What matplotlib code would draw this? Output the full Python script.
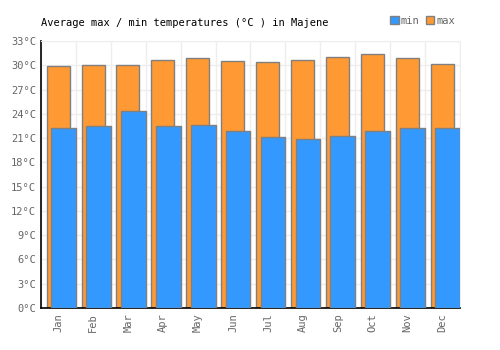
import matplotlib.pyplot as plt
from matplotlib.patches import Patch

# valores
meses = ['Jan', 'Feb', 'Mar', 'Apr', 'May', 'Jun', 'Jul', 'Aug', 'Sep', 'Oct', 'Nov', 'Dec']
t_max = [29.9, 30.0, 30.0, 30.7, 30.9, 30.5, 30.4, 30.7, 31.0, 31.4, 30.9, 30.1]
t_min = [22.2, 22.5, 24.35, 22.5, 22.6, 21.9, 21.1, 20.9, 21.2, 21.9, 22.3, 22.3]
y_ticks = list(range(0, 34, 3))

plt.rcParams['font.family'] = 'DejaVu Sans Mono'

fig = plt.figure(figsize=(5, 3.5), dpi=100)
ax = fig.add_axes([0.082, 0.12, 0.838, 0.763])

x = list(range(len(meses)))
ax.bar([i + 0.16 for i in x], t_max, width=0.66, align='edge', color='#ff9933',
       edgecolor='#808080', linewidth=1, zorder=2)
ax.bar([i + 0.29 for i in x], t_min, width=0.71, align='edge', color='#3399ff',
       edgecolor='#808080', linewidth=1, zorder=3)

ax.set_xlim(0, 12)
ax.set_ylim(0, 33)
ax.set_yticks(y_ticks)
ax.set_yticklabels([f'{v}°C' for v in y_ticks])
ax.set_xticks([i + 0.5 for i in x])
ax.set_xticklabels(meses, rotation=90)
ax.set_xticks(range(13), minor=True)
ax.tick_params(axis='both', colors='#666666', labelsize=7.5, length=0)
ax.tick_params(axis='x', which='minor', length=0)
ax.grid(True, axis='y', color='#eeeeee', linewidth=1, zorder=0)
ax.grid(True, axis='x', which='minor', color='#eeeeee', linewidth=1, zorder=0)
ax.set_axisbelow(True)

for lado in ['top', 'right']:
    ax.spines[lado].set_color('#eeeeee')
for lado in ['left', 'bottom']:
    ax.spines[lado].set_color('black')
    ax.spines[lado].set_linewidth(1.2)

fig.text(0.082, 0.935, 'Average max / min temperatures (°C ) in Majene', fontsize=7.5,
         color='black', va='center')

handles = [Patch(facecolor='#3399ff', edgecolor='#808080', label='min'),
           Patch(facecolor='#ff9933', edgecolor='#808080', label='max')]
leg = fig.legend(handles=handles, loc='center right', bbox_to_anchor=(0.92, 0.94), ncol=2,
                 frameon=False, fontsize=7.5, handlelength=0.8, handleheight=0.8,
                 handletextpad=0.2, columnspacing=0.6, borderpad=0)
for t in leg.get_texts():
    t.set_color('#666666')

fig.savefig('out.png', dpi=100)
